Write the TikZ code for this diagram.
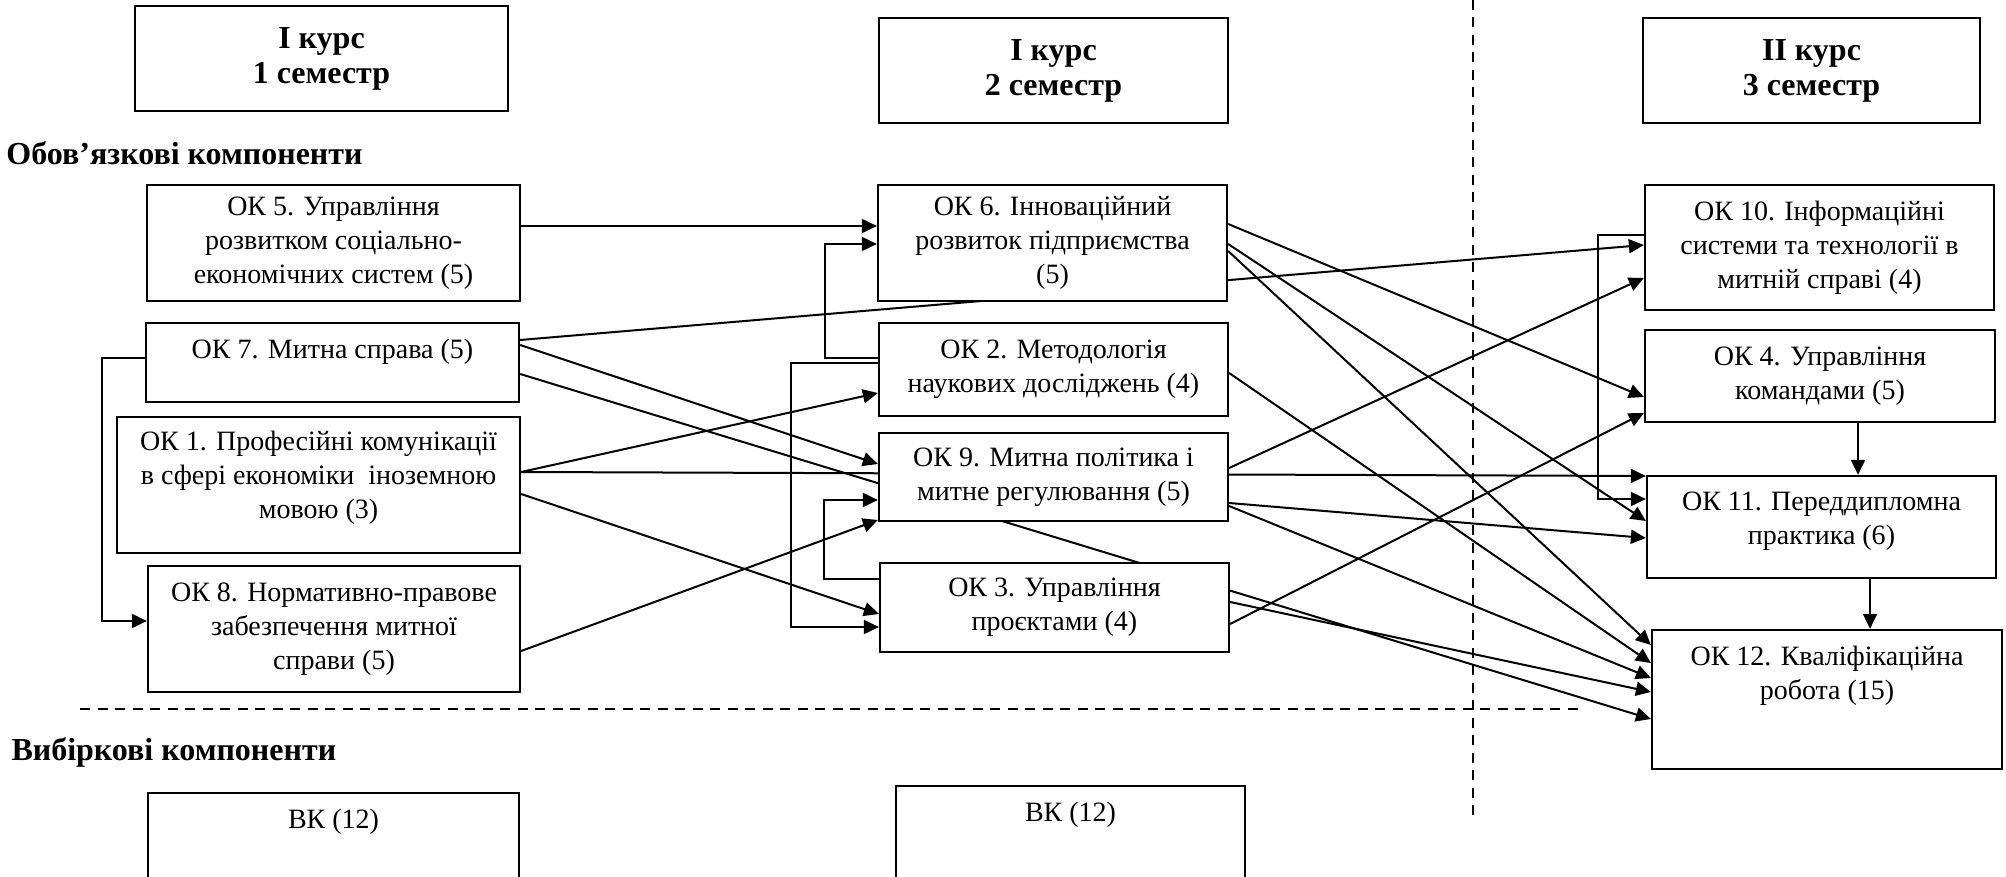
\documentclass[tikz,border=0pt]{standalone}
\usepackage{fontspec}
\setmainfont{Liberation Serif}
\usetikzlibrary{arrows.meta,backgrounds}
\newcommand{\pushup}[1]{\rule[-#1]{0pt}{#1}}
\begin{document}
\begin{tikzpicture}[x=0.4pt,y=-0.4pt,
        box/.style={shape=rectangle,draw=black,line width=0.9pt,fill=white,align=center,inner sep=0pt,font=\fontsize{11.2}{13.6}\selectfont},
        head/.style={box,font=\bfseries\fontsize{12.8}{14}\selectfont},
        wh/.style 2 args={minimum width=#1*0.4pt,minimum height=#2*0.4pt},
        part/.style={anchor=west,inner sep=0pt,font=\bfseries\fontsize{12.8}{14}\selectfont},
        link/.style={line width=0.8pt},
        arr/.style={link,-{Triangle[length=6pt,width=5.6pt]}},
        split/.style={line width=0.6pt,dash pattern=on 4pt off 3pt}]
                \useasboundingbox (0,0) rectangle (2006,877);
                \node[head,wh={373}{105}] (sem1) at (321.5,58.5) {I курс\\1 семестр};
                \node[head,wh={349}{105}] (sem2) at (1053.5,70.5) {I курс\\2 семестр};
                \node[head,wh={337}{105}] (sem3) at (1811.5,70.5) {II курс\\3 семестр};
                \node[part] (oblig) at (6,153) {Обов’язкові компоненти};
                \node[part] (vybir) at (11,752) {Вибіркові компоненти};
                \node[box,wh={373}{116}] (ok5) at (333.5,243) {ОК 5. Управління\\розвитком соціально-\\економічних систем (5)};
                \node[box,wh={373}{79}] (ok7) at (332.5,362.5) {ОК 7. Митна справа (5)\pushup{11pt}};
                \node[box,wh={403}{136}] (ok1) at (318.5,485) {ОК 1. Професійні комунікації\\в сфері економіки\ \ іноземною\\мовою (3)\pushup{8pt}};
                \node[box,wh={372}{126}] (ok8) at (334,629) {ОК 8. Нормативно-правове\\забезпечення митної\\справи (5)};
                \node[box,wh={349}{116}] (ok6) at (1052.5,243) {ОК 6. Інноваційний\\розвиток підприємства\\(5)};
                \node[box,wh={349}{93}] (ok2) at (1053.5,369.5) {ОК 2. Методологія\\наукових досліджень (4)};
                \node[box,wh={349}{88}] (ok9) at (1053.5,477) {ОК 9. Митна політика і\\митне регулювання (5)};
                \node[box,wh={349}{89}] (ok3) at (1054.5,607.5) {ОК 3. Управління\\проєктами (4)};
                \node[box,wh={349}{125}] (ok10) at (1819.5,247.5) {ОК 10. Інформаційні\\системи та технології в\\митній справі (4)};
                \node[box,wh={350}{92}] (ok4) at (1820,376) {ОК 4. Управління\\командами (5)};
                \node[box,wh={349}{102}] (ok11) at (1821.5,527) {ОК 11. Переддипломна\\практика (6)\pushup{7pt}};
                \node[box,wh={350}{139}] (ok12) at (1827,699.5) {ОК 12. Кваліфікаційна\\робота (15)\pushup{21pt}};
                \begin{scope}
                \clip (0,0) rectangle (2006,877);
                \node[box,wh={371}{110}] (vk1) at (333.5,848) {ВК (12)\pushup{23pt}};
                \node[box,wh={349}{117}] (vk2) at (1070.5,844.5) {ВК (12)\pushup{26pt}};
                \end{scope}
                \draw[split] (80,709) -- (1578,709);
                \draw[split] (1473,0) -- (1473,822);
                \begin{scope}[on background layer]
                \path [arr] (ok5.east |- 0,226) edge (ok6.west |- 0,226);
                \path [arr] (ok7.east |- 0,340) edge (ok10.west |- 0,245);
                \path [arr] (ok7.east |- 0,345) edge (ok9.west |- 0,464);
                \path [arr] (ok7.east |- 0,374) edge (ok12.west |- 0,719);
                \path [arr] (ok1.east |- 0,472) edge (ok2.west |- 0,393);
                \path [arr] (ok1.east |- 0,472) edge (ok11.west |- 0,476);
                \path [arr] (ok1.east |- 0,494) edge (ok3.west |- 0,614);
                \path [arr] (ok8.east |- 0,651) edge (ok9.west |- 0,520);
                \path [arr] (ok2.east |- 0,373) edge (ok12.west |- 0,663);
                \path [arr] (ok6.east |- 0,224) edge (ok4.west |- 0,397);
                \path [arr] (ok6.east |- 0,244) edge (ok11.west |- 0,521);
                \path [arr] (ok6.east |- 0,251) edge (ok12.west |- 0,645);
                \path [arr] (ok9.east |- 0,468) edge (ok10.west |- 0,278);
                \path [arr] (ok9.east |- 0,503) edge (ok11.west |- 0,538);
                \path [arr] (ok9.east |- 0,506) edge (ok12.west |- 0,678);
                \path [arr] (ok3.east |- 0,624) edge (ok4.west |- 0,413);
                \path [arr] (ok3.east |- 0,602) edge (ok12.west |- 0,692);
                \draw [arr] (ok7.west |- 0,358) -- ++(-43,0) |- (ok8.west |- 0,621);
                \draw [arr] (ok2.west |- 0,358) -- ++(-53,0) |- (ok6.west |- 0,244);
                \draw [arr] (ok2.west |- 0,363) -- ++(-87,0) |- (ok3.west |- 0,627);
                \draw [arr] (ok3.west |- 0,579) -- ++(-55,0) |- (ok9.west |- 0,500);
                \draw [arr] (ok10.west |- 0,235) -- ++(-46,0) |- (ok11.west |- 0,499);
                \draw [arr] (ok4.south -| 1858,0) -- (ok11.north -| 1858,0);
                \draw [arr] (ok11.south -| 1870,0) -- (ok12.north -| 1870,0);
                \end{scope}
            \end{tikzpicture}
\end{document}
